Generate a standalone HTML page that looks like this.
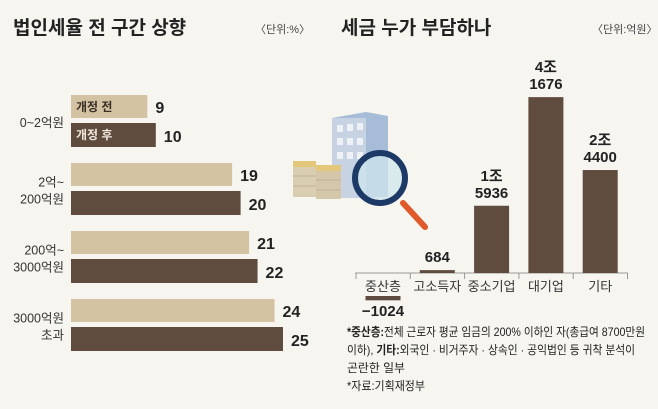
<!DOCTYPE html>
<html><head><meta charset="utf-8">
<style>
html,body{margin:0;padding:0;background:#f6f5f0;}
body{width:658px;height:404px;position:relative;overflow:hidden;font-family:"Liberation Sans","Noto Sans CJK KR",sans-serif;}
svg text{font-family:"Liberation Sans","Noto Sans CJK KR",sans-serif;}
</style></head>
<body>
<svg width="658" height="404" id="svg">
<text x="13" y="34" font-size="19" font-weight="bold" fill="#222">법인세율 전 구간 상향</text>
<text x="255" y="33" font-size="11" fill="#444">〈단위:%〉</text>
<text x="341" y="34" font-size="19" font-weight="bold" fill="#222">세금 누가 부담하나</text>
<text x="592" y="33" font-size="11" fill="#444">〈단위:억원〉</text>
<g id="left"></g>
<g>
<rect x="332" y="118" width="34" height="80" fill="#c7d3e3"/>
<polygon points="332,118 366,112 388,116 388,197 366,198 366,118" fill="#a7bcd6"/>
<g fill="#eef2f7">
<rect x="337" y="125" width="6" height="7"/><rect x="347" y="124" width="6" height="7"/><rect x="357" y="123" width="6" height="7"/>
<rect x="337" y="138" width="6" height="7"/><rect x="347" y="138" width="6" height="7"/><rect x="357" y="138" width="6" height="7"/>
<rect x="337" y="152" width="6" height="7"/><rect x="347" y="152" width="6" height="7"/><rect x="357" y="152" width="6" height="7"/>
</g>
<rect x="293" y="165" width="23" height="32" fill="#d9cdb2"/><rect x="293" y="161" width="23" height="6" fill="#e3c77a"/>
<rect x="316" y="169" width="25" height="30" fill="#d4c7aa"/><rect x="316" y="165" width="25" height="6" fill="#e3c77a"/>
<g stroke="#bfb197" stroke-width="1"><line x1="293" y1="176" x2="316" y2="176"/><line x1="293" y1="186" x2="316" y2="186"/><line x1="316" y1="180" x2="341" y2="180"/><line x1="316" y1="190" x2="341" y2="190"/></g>
<line x1="403" y1="203" x2="425" y2="227" stroke="#e0592a" stroke-width="6" stroke-linecap="round"/>
<circle cx="380" cy="178" r="25" fill="#cfe6ec" fill-opacity="0.75" stroke="#1d3a66" stroke-width="6"/>
</g>
<g id="right"></g>
<g font-size="12" fill="#222">
<text x="347" y="336" textLength="298" lengthAdjust="spacingAndGlyphs"><tspan font-weight="bold">*중산층:</tspan>전체 근로자 평균 임금의 200% 이하인 자(총급여 8700만원</text>
<text x="347" y="354" textLength="288" lengthAdjust="spacingAndGlyphs">이하), <tspan font-weight="bold">기타:</tspan>외국인 · 비거주자 · 상속인 · 공익법인 등 귀착 분석이</text>
<text x="347" y="372" textLength="58" lengthAdjust="spacingAndGlyphs">곤란한 일부</text>
<text x="347" y="390" textLength="78" lengthAdjust="spacingAndGlyphs">*자료:기획재정부</text>
</g>
</svg>
<script>
const leftCats=[["0~2억원"],["2억~","200억원"],["200억~","3000억원"],["3000억원","초과"]];
const beforeVals=[9,19,21,24];
const afterVals=[10,20,22,25];
const rightCats=["중산층","고소득자","중소기업","대기업","기타"];
const rightVals=[-1024,684,15936,41676,24400];
const rightLabels=[["−1024"],["684"],["1조","5936"],["4조","1676"],["2조","4400"]];
const NS="http://www.w3.org/2000/svg";
function mk(p,t,a){const e=document.createElementNS(NS,t);for(const k in a)e.setAttribute(k,a[k]);p.appendChild(e);return e;}
const L=document.getElementById('left');
const x0=71,sx=v=>v*8.48;
leftCats.forEach((c,i)=>{
  const y=95+i*68;
  const b1=mk(L,'rect',{x:x0,y:y,width:sx(beforeVals[i]),height:23,fill:'#d3c3a3'});
  
  
  const b2=mk(L,'rect',{x:x0,y:y+28,width:sx(afterVals[i]),height:24,fill:'#5f4c3f'});
  
  
  const t1=mk(L,'text',{x:x0+sx(beforeVals[i])+8,y:y+18,'font-size':16,'font-weight':'bold',fill:'#222'});t1.textContent=beforeVals[i];
  
  
  const t2=mk(L,'text',{x:x0+sx(afterVals[i])+8,y:y+47,'font-size':16,'font-weight':'bold',fill:'#222'});t2.textContent=afterVals[i];
  
  
  const cy=y+27-(c.length-1)*8.5+5;
  c.forEach((s,j)=>{const t=mk(L,'text',{x:64,y:cy+j*17,'font-size':12.5,'text-anchor':'end',fill:'#333'});t.textContent=s;
    
    });
});
const lg1=mk(L,'text',{x:76,y:111,'font-size':12,'font-weight':'bold',fill:'#3a2f25'});lg1.textContent='개정 전';


const lg2=mk(L,'text',{x:76,y:139,'font-size':12,'font-weight':'bold',fill:'#f0e8dc'});lg2.textContent='개정 후';


const R=document.getElementById('right');
const base=273,sy=v=>v*0.00422,cx=i=>383+i*54.3,bw=35;
const ax=mk(R,'line',{x1:355,y1:base,x2:628,y2:base,stroke:'#999','stroke-width':1});


for(let k=0;k<=5;k++){mk(R,'line',{x1:356+k*54.3,y1:base,x2:356+k*54.3,y2:base+6,stroke:'#999'});}
rightCats.forEach((c,i)=>{
  const v=rightVals[i];let b,ly;
  if(v>=0){const h=sy(v);b=mk(R,'rect',{x:cx(i)-bw/2,y:base-h,width:bw,height:h,fill:'#5f4c3f'});ly=base-h-8;
    rightLabels[i].slice().reverse().forEach((s,j)=>{const t=mk(R,'text',{x:cx(i),y:ly-j*17,'font-size':15,'font-weight':'bold','text-anchor':'middle',fill:'#222'});t.textContent=s;
      
      });}
  else{const h=sy(-v);b=mk(R,'rect',{x:cx(i)-bw/2,y:296,width:bw,height:h,fill:'#5f4c3f'});
    const t=mk(R,'text',{x:cx(i),y:316,'font-size':15,'font-weight':'bold','text-anchor':'middle',fill:'#222'});t.textContent=rightLabels[i][0];
    
    }
  
  
  const t=mk(R,'text',{x:cx(i),y:291,'font-size':13,'text-anchor':'middle',fill:'#333'});t.textContent=c;
  
  
});
</script>
</body></html>
